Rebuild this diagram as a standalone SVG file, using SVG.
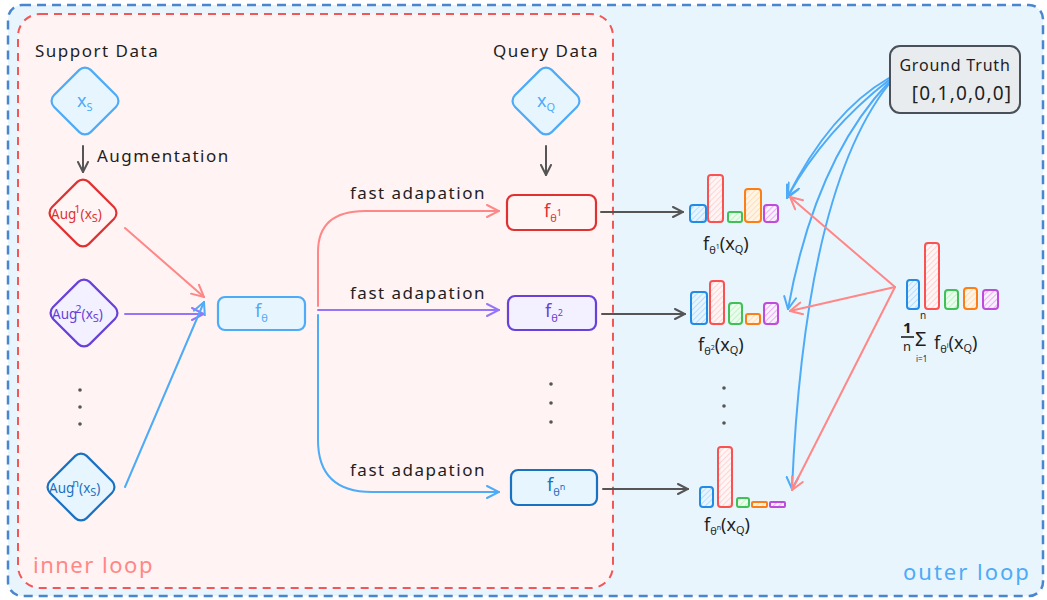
<svg xmlns="http://www.w3.org/2000/svg" width="1047" height="600" viewBox="0 0 1047 600">
  <defs>
    <style>
      text { font-family: "Noto Sans", "DejaVu Sans", sans-serif; }
      .lbl { font-size: 17px; fill: #1e1e1e; letter-spacing: 1.5px; }
      .sm { font-size: 11px; }
      .node-blue { fill: #e7f5ff; stroke: #4dabf7; stroke-width: 2.2; }
      .node-red { fill: #fff5f5; stroke: #e03131; stroke-width: 2.2; }
      .node-purple { fill: #f3f0ff; stroke: #6741d9; stroke-width: 2.2; }
      .node-dblue { fill: #e7f5ff; stroke: #1971c2; stroke-width: 2.2; }
      .conn { fill: none; stroke-width: 2; stroke-linecap: round; }
      .dark { stroke: #555555; marker-end: url(#a-dark); }
      .red { stroke: #ff8787; marker-end: url(#a-red); }
      .purple { stroke: #9775fa; marker-end: url(#a-purple); }
      .blue { stroke: #4dabf7; marker-end: url(#a-blue); }
      .bar { stroke-width: 2; }
      .b1 { fill: url(#h-blue); stroke: #228be6; }
      .b2 { fill: url(#h-red); stroke: #fa5252; }
      .b3 { fill: url(#h-green); stroke: #40c057; }
      .b4 { fill: url(#h-orange); stroke: #fd7e14; }
      .b5 { fill: url(#h-purple); stroke: #be4bdb; }
      .dot { fill: #555555; }
      .plabel { font-size: 18px; fill: #1e1e1e; }
    </style>
    <marker id="a-dark" viewBox="0 0 12 12" refX="11" refY="6" markerWidth="12" markerHeight="12" markerUnits="userSpaceOnUse" orient="auto">
      <path d="M1,1 L11,6 L1,11" fill="none" stroke="#555555" stroke-width="2" stroke-linecap="round"/>
    </marker>
    <marker id="a-red" viewBox="0 0 14 14" refX="13" refY="7" markerWidth="14" markerHeight="14" markerUnits="userSpaceOnUse" orient="auto">
      <path d="M1,1 L13,7 L1,13" fill="none" stroke="#ff8787" stroke-width="2" stroke-linecap="round"/>
    </marker>
    <marker id="a-purple" viewBox="0 0 14 14" refX="13" refY="7" markerWidth="14" markerHeight="14" markerUnits="userSpaceOnUse" orient="auto">
      <path d="M1,1 L13,7 L1,13" fill="none" stroke="#9775fa" stroke-width="2" stroke-linecap="round"/>
    </marker>
    <marker id="a-blue" viewBox="0 0 14 14" refX="13" refY="7" markerWidth="14" markerHeight="14" markerUnits="userSpaceOnUse" orient="auto">
      <path d="M1,1 L13,7 L1,13" fill="none" stroke="#4dabf7" stroke-width="2" stroke-linecap="round"/>
    </marker>
    <pattern id="h-blue" width="4" height="4" patternUnits="userSpaceOnUse" patternTransform="rotate(45)">
      <rect width="4" height="4" fill="#e7f5ff"/><line x1="0" y1="0" x2="0" y2="4" stroke="#a5d8ff" stroke-width="1.5"/>
    </pattern>
    <pattern id="h-red" width="4" height="4" patternUnits="userSpaceOnUse" patternTransform="rotate(45)">
      <rect width="4" height="4" fill="#fff5f5"/><line x1="0" y1="0" x2="0" y2="4" stroke="#ffc9c9" stroke-width="1.5"/>
    </pattern>
    <pattern id="h-green" width="4" height="4" patternUnits="userSpaceOnUse" patternTransform="rotate(45)">
      <rect width="4" height="4" fill="#ebfbee"/><line x1="0" y1="0" x2="0" y2="4" stroke="#b2f2bb" stroke-width="1.5"/>
    </pattern>
    <pattern id="h-orange" width="4" height="4" patternUnits="userSpaceOnUse" patternTransform="rotate(45)">
      <rect width="4" height="4" fill="#fff4e6"/><line x1="0" y1="0" x2="0" y2="4" stroke="#ffd8a8" stroke-width="1.5"/>
    </pattern>
    <pattern id="h-purple" width="4" height="4" patternUnits="userSpaceOnUse" patternTransform="rotate(45)">
      <rect width="4" height="4" fill="#f8f0fc"/><line x1="0" y1="0" x2="0" y2="4" stroke="#e599f7" stroke-width="1.5"/>
    </pattern>
  </defs>

  <!-- outer loop region -->
  <g id="outer-loop">
    <rect x="8" y="5" width="1035" height="591" rx="14" fill="#e8f5fd" stroke="#4a86cf" stroke-width="2.5" stroke-dasharray="9 6"/>
    <text x="903" y="580" font-size="22" letter-spacing="2" fill="#4dabf7">outer loop</text>
  </g>

  <!-- inner loop region -->
  <g id="inner-loop">
    <rect x="18" y="14" width="595" height="574" rx="22" fill="#fff3f3" stroke="#f25656" stroke-width="2" stroke-dasharray="8 6"/>
    <text x="33" y="573" font-size="22" letter-spacing="1.5" fill="#ff8787">inner loop</text>
  </g>

  <!-- connectors -->
  <g id="connectors">
    <path class="conn dark" d="M83,146 L83,172"/>
    <path class="conn dark" d="M546,146 L546,175"/>
    <path class="conn red" d="M125,228 L204,297"/>
    <path class="conn purple" d="M125,314 L204,314"/>
    <path class="conn blue" d="M125,487 L204,302"/>
    <path class="conn red" d="M318,306 L318,252 Q318,211 365,211 L499,211"/>
    <path class="conn purple" d="M318,310 L499,310"/>
    <path class="conn blue" d="M318,315 L318,440 Q318,492 372,492 L499,492"/>
    <path class="conn dark" d="M601,212 L683,212"/>
    <path class="conn dark" d="M602,314 L685,314"/>
    <path class="conn dark" d="M603,489 L688,489"/>
    <!-- ground truth to each prediction -->
    <path class="conn blue" d="M889,78 Q830,112 787,198"/>
    <path class="conn blue" d="M889,80 Q825,130 788,196"/>
    <path class="conn blue" d="M889,82 Q815,160 788,309"/>
    <path class="conn blue" d="M889,84 Q805,190 792,489"/>
    <!-- averaged prediction to each prediction -->
    <path class="conn red" d="M895,287 L790,197"/>
    <path class="conn red" d="M895,287 L790,311"/>
    <path class="conn red" d="M895,287 L792,490"/>
  </g>

  <!-- support data -->
  <g id="support-title">
    <text class="lbl" x="35" y="57">Support Data</text>
  </g>
  <g id="xs">
    <rect class="node-blue" x="59" y="75" width="52" height="52" rx="8" transform="rotate(45 85 101)"/>
    <text x="77" y="107" font-size="18" fill="#4dabf7">x<tspan class="sm" dy="4">S</tspan></text>
  </g>
  <g id="augmentation-label">
    <text class="lbl" x="97" y="162" letter-spacing="0.6">Augmentation</text>
  </g>
  <g id="aug1">
    <rect class="node-red" x="57" y="187" width="52" height="52" rx="8" transform="rotate(45 83 213)"/>
    <text x="51" y="219" font-size="13.5" fill="#e03131">Aug<tspan class="sm" dy="-6" dx="-2">1</tspan><tspan dy="6">(x</tspan><tspan class="sm" dy="3">S</tspan><tspan dy="-3">)</tspan></text>
  </g>
  <g id="aug2">
    <rect class="node-purple" x="58" y="287" width="52" height="52" rx="8" transform="rotate(45 84 313)"/>
    <text x="52" y="319" font-size="13.5" fill="#6741d9">Aug<tspan class="sm" dy="-6" dx="-2">2</tspan><tspan dy="6">(x</tspan><tspan class="sm" dy="3">S</tspan><tspan dy="-3">)</tspan></text>
  </g>
  <g id="aug-dots">
    <circle class="dot" cx="80" cy="390" r="1.8"/>
    <circle class="dot" cx="80" cy="407" r="1.8"/>
    <circle class="dot" cx="80" cy="424" r="1.8"/>
  </g>
  <g id="augn">
    <rect class="node-dblue" x="55" y="461" width="52" height="52" rx="8" transform="rotate(45 81 487)"/>
    <text x="49" y="493" font-size="13.5" fill="#1971c2">Aug<tspan class="sm" dy="-6" dx="-2">n</tspan><tspan dy="6">(x</tspan><tspan class="sm" dy="3">S</tspan><tspan dy="-3">)</tspan></text>
  </g>

  <!-- base learner -->
  <g id="f-theta">
    <rect class="node-blue" x="218" y="297" width="87" height="33" rx="7"/>
    <text x="255" y="317" font-size="18" fill="#4dabf7">f<tspan class="sm" dy="5">θ</tspan></text>
  </g>

  <!-- adaptation labels -->
  <g id="fast-adapt-1"><text class="lbl" x="350" y="199">fast adapation</text></g>
  <g id="fast-adapt-2"><text class="lbl" x="350" y="299">fast adapation</text></g>
  <g id="fast-adapt-n"><text class="lbl" x="350" y="476">fast adapation</text></g>

  <!-- query data -->
  <g id="query-title">
    <text class="lbl" x="493" y="57" letter-spacing="0.8">Query Data</text>
  </g>
  <g id="xq">
    <rect class="node-blue" x="520" y="75" width="52" height="52" rx="8" transform="rotate(45 546 101)"/>
    <text x="537" y="107" font-size="18" fill="#4dabf7">x<tspan class="sm" dy="4">Q</tspan></text>
  </g>

  <!-- adapted learners -->
  <g id="f-theta-1">
    <rect class="node-red" x="507" y="195" width="89" height="35" rx="7"/>
    <text x="544" y="217" font-size="18" fill="#e03131">f<tspan class="sm" dy="5">θ</tspan><tspan font-size="9" dy="-6">1</tspan></text>
  </g>
  <g id="f-theta-2">
    <rect class="node-purple" x="508" y="296" width="88" height="34" rx="7"/>
    <text x="545" y="317" font-size="18" fill="#6741d9">f<tspan class="sm" dy="5">θ</tspan><tspan font-size="9" dy="-6">2</tspan></text>
  </g>
  <g id="adapted-dots">
    <circle class="dot" cx="551" cy="384" r="1.8"/>
    <circle class="dot" cx="551" cy="403" r="1.8"/>
    <circle class="dot" cx="551" cy="422" r="1.8"/>
  </g>
  <g id="f-theta-n">
    <rect class="node-dblue" x="511" y="470" width="86" height="35" rx="7"/>
    <text x="547" y="491" font-size="18" fill="#1971c2">f<tspan class="sm" dy="5">θ</tspan><tspan font-size="9" dy="-6">n</tspan></text>
  </g>

  <!-- predictions -->
  <g id="pred-1">
    <rect class="bar b1" x="690" y="205" width="16" height="17" rx="3"/>
    <rect class="bar b2" x="708" y="175" width="15" height="47" rx="3"/>
    <rect class="bar b3" x="728" y="212" width="14" height="10" rx="2"/>
    <rect class="bar b4" x="745" y="189" width="16" height="33" rx="3"/>
    <rect class="bar b5" x="764" y="205" width="14" height="17" rx="3"/>
    <text class="plabel" x="703" y="250">f<tspan class="sm" dy="4">θ</tspan><tspan font-size="7" dy="-5">1</tspan><tspan dy="1">(x</tspan><tspan class="sm" dy="3">Q</tspan><tspan dy="-3">)</tspan></text>
  </g>
  <g id="pred-2">
    <rect class="bar b1" x="691" y="292" width="16" height="32" rx="3"/>
    <rect class="bar b2" x="710" y="281" width="14" height="43" rx="3"/>
    <rect class="bar b3" x="729" y="303" width="13" height="21" rx="3"/>
    <rect class="bar b4" x="746" y="314" width="14" height="10" rx="2"/>
    <rect class="bar b5" x="764" y="303" width="14" height="21" rx="3"/>
    <text class="plabel" x="698" y="351">f<tspan class="sm" dy="4">θ</tspan><tspan font-size="7" dy="-5">2</tspan><tspan dy="1">(x</tspan><tspan class="sm" dy="3">Q</tspan><tspan dy="-3">)</tspan></text>
  </g>
  <g id="pred-dots">
    <circle class="dot" cx="724" cy="388" r="1.8"/>
    <circle class="dot" cx="724" cy="406" r="1.8"/>
    <circle class="dot" cx="724" cy="423" r="1.8"/>
  </g>
  <g id="pred-n">
    <rect class="bar b1" x="700" y="487" width="13" height="20" rx="3"/>
    <rect class="bar b2" x="718" y="447" width="14" height="60" rx="3"/>
    <rect class="bar b3" x="737" y="498" width="12" height="9" rx="2"/>
    <rect class="bar b4" x="752" y="502" width="15" height="5" rx="1"/>
    <rect class="bar b5" x="770" y="502" width="15" height="5" rx="1"/>
    <text class="plabel" x="704" y="531">f<tspan class="sm" dy="4">θ</tspan><tspan font-size="7" dy="-5">n</tspan><tspan dy="1">(x</tspan><tspan class="sm" dy="3">Q</tspan><tspan dy="-3">)</tspan></text>
  </g>

  <!-- averaged prediction -->
  <g id="pred-mean">
    <rect class="bar b1" x="907" y="280" width="12" height="29" rx="3"/>
    <rect class="bar b2" x="925" y="243" width="14" height="66" rx="3"/>
    <rect class="bar b3" x="945" y="290" width="13" height="19" rx="3"/>
    <rect class="bar b4" x="964" y="288" width="13" height="21" rx="3"/>
    <rect class="bar b5" x="983" y="290" width="15" height="19" rx="3"/>
    <text x="903" y="333" font-size="15" font-weight="bold" fill="#1e1e1e">1</text>
    <line x1="901" y1="337" x2="914" y2="337" stroke="#1e1e1e" stroke-width="1.6"/>
    <text x="903" y="351" font-size="13" fill="#1e1e1e">n</text>
    <text x="915" y="346" font-size="20" fill="#1e1e1e">Σ</text>
    <text x="920" y="319" font-size="10" fill="#1e1e1e">n</text>
    <text x="916" y="362" font-size="8" fill="#1e1e1e">i=1</text>
    <text class="plabel" x="934" y="349">f<tspan class="sm" dy="4">θ</tspan><tspan font-size="7" dy="-5">i</tspan><tspan dy="1">(x</tspan><tspan class="sm" dy="3">Q</tspan><tspan dy="-3">)</tspan></text>
  </g>

  <!-- ground truth -->
  <g id="ground-truth">
    <rect x="890" y="46" width="130" height="67" rx="10" fill="#e9ecef" stroke="#495057" stroke-width="2"/>
    <text x="955" y="71" text-anchor="middle" font-size="16" letter-spacing="0.8" fill="#1e1e1e">Ground Truth</text>
    <text x="962" y="100" text-anchor="middle" font-size="19" letter-spacing="1.2" fill="#1e1e1e">[0,1,0,0,0]</text>
  </g>
</svg>
